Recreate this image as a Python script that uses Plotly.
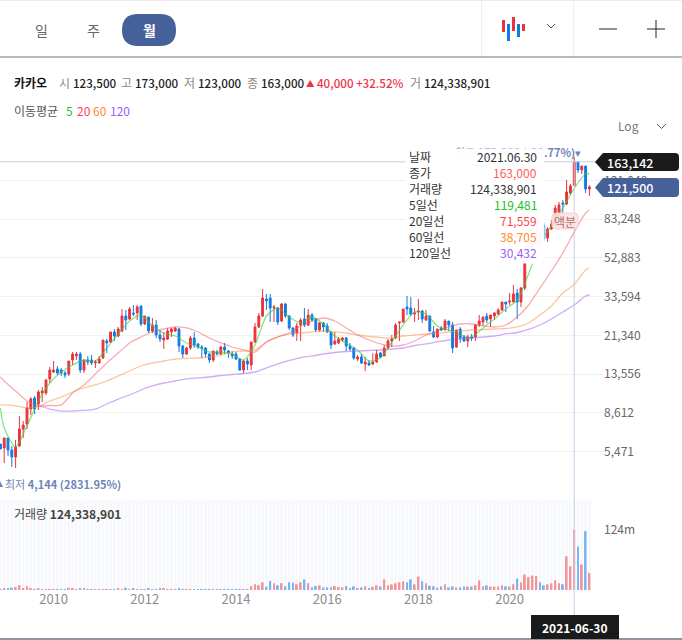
import pandas as pd
import plotly.graph_objects as go

W, H = 682, 640
FONT = "Noto Sans CJK KR"
RED, BLUE = "#e9343b", "#0f7be6"
NAVY = "#46609a"

# Monthly quotes, oldest first
months = list(pd.date_range("2008-11-01", periods=156, freq="MS").strftime("%Y-%m"))

opens = [5970, 5700, 6410, 5570, 5130, 5840, 7120, 7550, 9000, 10240, 9550, 10860,
         10860, 12800, 13890, 14390, 14220, 13730, 13570, 15990, 16760, 17150, 14220, 15990,
         15990, 15440, 15440, 16370, 19980, 19750, 22200, 21180, 22460, 26780, 25850, 27740,
         27740, 30110, 24380, 26470, 22460, 24100, 21430, 20210, 20450, 22200, 22460, 22990,
         18840, 17150, 18400, 20690, 19290, 18620, 18400, 17150, 15990, 17560, 17150, 18620,
         17770, 17150, 17150, 16180, 14220, 15800, 15080, 19750, 23540, 26780, 32680, 33070,
         29410, 29410, 25250, 30820, 26780, 23270, 21940, 24100, 25850, 24100, 27090, 25850,
         22730, 24670, 23820, 22200, 19290, 19520, 20210, 20690, 18840, 18400, 16180, 16560,
         15260, 15440, 15260, 15620, 17360, 16760, 18400, 19980, 20690, 24670, 24960, 29760,
         29410, 27410, 28060, 28400, 25550, 26780, 22200, 20940, 23270, 22730, 25250, 24100,
         18620, 22990, 20940, 19980, 20940, 20940, 24100, 24960, 26780, 25850, 26780, 27410,
         28730, 31550, 31550, 31550, 35060, 31550, 37180, 52840, 58040, 61540, 71660, 77800,
         66810, 74240, 78720, 89550, 100690, 99510, 113190, 123500, 162760, 148210, 155320, 118610]
highs = [5970, 6410, 6410, 5840, 6260, 8290, 7820, 9770, 10360, 10490, 11250, 11650,
         12800, 14730, 15800, 14900, 14560, 14060, 15800, 17560, 17560, 17560, 15990, 16760,
         16950, 15990, 16760, 20210, 20450, 22200, 22990, 23540, 29070, 28730, 29760, 30460,
         30460, 30110, 26780, 26470, 26160, 25550, 22730, 22200, 23270, 23270, 23540, 23270,
         19060, 18620, 21180, 22200, 19520, 19060, 18620, 17360, 17770, 17980, 18840, 19520,
         17980, 17770, 17560, 16180, 15990, 16370, 19750, 24670, 27740, 36750, 34660, 34660,
         30460, 29760, 31190, 31190, 27090, 23540, 24670, 26160, 29410, 29070, 27740, 26160,
         24960, 24960, 24670, 22460, 22200, 20940, 20940, 20940, 19520, 18620, 16950, 17150,
         16560, 15990, 17360, 17980, 17560, 19060, 20450, 21430, 24670, 24960, 29070, 33850,
         33460, 29410, 32680, 28730, 28730, 26780, 23820, 22990, 23820, 25850, 25250, 24960,
         22730, 23540, 21430, 21430, 21690, 24380, 27090, 26470, 27740, 27090, 28060, 29410,
         31550, 31550, 35060, 38510, 36750, 37620, 54730, 61540, 63000, 77800, 73370, 80580,
         76000, 82500, 98350, 101870, 104280, 131850, 125830, 173000, 164680, 155320, 155320, 124360]
lows = [5630, 4780, 5190, 4560, 4510, 5770, 6410, 7120, 8390, 8490, 8900, 9770,
        10610, 12210, 13730, 13410, 13250, 12950, 13250, 15080, 15990, 13730, 13730, 15080,
        15080, 14560, 15260, 16180, 17360, 19520, 19980, 20940, 22200, 22730, 25550, 26780,
        25550, 23820, 24100, 21940, 21940, 20690, 19750, 18190, 20210, 20940, 22200, 17560,
        16370, 16950, 17980, 18400, 18190, 16370, 16560, 15440, 15620, 16950, 16950, 17150,
        16370, 16180, 15990, 14060, 13730, 14220, 14220, 19520, 23270, 26470, 28730, 24960,
        24960, 24100, 24960, 26160, 22730, 20940, 19980, 19980, 23540, 23820, 24960, 22200,
        22200, 22200, 21940, 18190, 19060, 19290, 19750, 17770, 17770, 15990, 15800, 15260,
        14060, 14900, 15080, 15440, 16370, 16760, 18190, 18620, 20450, 19980, 24670, 27090,
        26780, 24960, 25550, 24670, 25250, 22200, 20690, 20690, 22460, 22990, 22460, 17360,
        18400, 19520, 19750, 18620, 19980, 19980, 23540, 23820, 24670, 23540, 25550, 27090,
        28400, 28060, 30460, 31550, 25850, 29760, 36320, 50420, 54730, 60820, 60140, 64490,
        63740, 73370, 76900, 86440, 89550, 98350, 110570, 123000, 143120, 141430, 113190, 109250]
closes = [5630, 6410, 5570, 5130, 5770, 7120, 7460, 9110, 10120, 9000, 10990, 11120,
          12650, 14220, 14220, 13730, 13730, 13410, 15800, 17150, 17150, 14220, 15990, 15620,
          15440, 15620, 16180, 20210, 19520, 22200, 21180, 22990, 26780, 25550, 29070, 27410,
          29760, 24380, 26780, 22460, 24100, 21430, 20450, 20690, 22460, 22990, 23270, 18840,
          17150, 18400, 20690, 19060, 18620, 18400, 17150, 15990, 17770, 17150, 18620, 17980,
          17360, 16760, 16180, 14220, 15800, 15260, 19750, 23540, 26780, 33070, 31930, 29410,
          29760, 24960, 30820, 26780, 23270, 21430, 23820, 25550, 24100, 27090, 25550, 22730,
          24670, 23540, 22200, 19060, 19980, 20450, 20690, 18840, 18190, 16370, 16560, 15440,
          15620, 15080, 15620, 17150, 16560, 18400, 19980, 20450, 24100, 24960, 29070, 29070,
          27410, 27740, 28400, 25850, 26780, 22460, 20940, 22990, 22730, 25250, 24100, 18400,
          22730, 20690, 19980, 20940, 20690, 24100, 25250, 26470, 25550, 27090, 27740, 28730,
          31550, 30820, 31930, 34660, 31550, 37180, 52840, 58040, 61540, 75110, 61540, 66020,
          74240, 78720, 94960, 98350, 99510, 114540, 122880, 163000, 148210, 155320, 118610, 121500]
volumes = [0.5, 3, 3, 5, 6, 10, 3, 8, 3, 1.5, 3,
           1.2, 1.5, 1, 1, 0.8, 0.8, 1, 4.8, 3, 1.2, 2.4, 2.8, 1, 1, 0.8, 0.8, 1, 1, 1, 1.5,
           2.5, 2, 4.8, 1.5, 3, 1.2, 0.8, 1, 2.5, 1, 1, 3, 2.8, 1, 1, 0.8, 2.5, 1, 0.8, 0.8,
           0.8, 0.8, 0.8, 0.6, 0.6, 0.2, 0.2, 0.2, 0.2, 0.2, 0.8, 0.8, 0.8, 1.2, 1.5,
           8, 12, 10, 16, 7, 18.6, 14, 10, 14, 7.6, 16, 15, 12, 16, 22, 14, 5.5, 8.3, 9.7,
           5.5, 5.5, 5.5, 8.3, 6, 5.5, 8.3, 3.4, 7.6, 3.4, 5.5, 7.6, 4, 6, 9.7, 7.6, 22, 9.7,
           11.7, 14, 16, 18, 16, 22, 11.7, 28, 18, 14, 9, 7.6, 5, 7.6, 11.7, 5.5, 7.6, 5, 5.5,
           7, 7, 7, 9.7, 20, 7.6, 9.7, 7, 7, 7, 9.7, 7.6, 7, 11.7, 24, 16, 32, 27, 30, 29,
           16, 9.7, 11.7, 14, 20, 14, 12, 70, 49, 124.338901, 90, 53, 122, 35]

# Moving averages, read at the first month, every third month after it, and the final month
ma_months = [months[0]] + months[1::3] + [months[-1]]
ma5 = [9110, 7210, 5770, 7380, 9890, 12210, 13890, 15080, 15990, 15800, 18400, 21690, 25250, 27090,
       23820, 21940, 21180, 19520, 18620, 17560, 17560, 17150, 15990, 19060, 26780, 29410, 26470,
       24670, 26470, 24380, 21180, 19520, 17980, 15800, 16370, 19750, 24100, 28060, 27410, 23820,
       22730, 21430, 20940, 23270, 25850, 29070, 32300, 43810, 63000, 76900, 94960, 119481, 141430, 141430]
ma20 = [13100, 12500, 11120, 9890, 9330, 9380, 9440, 10860, 11930, 13570, 15440, 17360, 19520, 20940,
        22200, 22990, 23540, 23270, 22200, 20690, 19520, 18620, 17980, 17560, 19750, 20940, 21940,
        23820, 25250, 26160, 25250, 23270, 21430, 20210, 19290, 18840, 19060, 19980, 21430, 22460,
        23540, 24380, 24380, 23820, 23540, 24100, 26470, 30460, 37180, 45370, 56030, 71559, 89550, 92740]
ma60 = [9440, 9440, 9330, 9160, 9270, 9890, 10360, 10990, 11520, 11930, 12500, 13250, 14060, 14900,
        15440, 15800, 16180, 16270, 16370, 16560, 16950, 17560, 17770, 17980, 19750, 20940, 21690,
        21940, 22200, 22460, 22200, 21940, 21430, 21060, 20810, 20690, 21180, 21430, 21690, 21820,
        22200, 22460, 22730, 22860, 22990, 23130, 23540, 24670, 27090, 30110, 35060, 38705, 45910, 47000]
ma120 = [None, None, None, None, 9380, 9000, 8790, 8790, 8850, 9000, 9550, 10120, 10610, 11250,
         11790, 12210, 12500, 12800, 12950, 13100, 13330, 13490, 13650, 13890, 14560, 15260, 15900,
         16460, 16760, 17150, 17460, 17660, 17770, 17870, 17980, 18190, 18400, 18950, 19290, 19750,
         20210, 20450, 20690, 20940, 21180, 21690, 22070, 22860, 24100, 25850, 28060, 30432, 33850, 34250]

price_ticks = [5471, 8612, 13556, 21340, 33594, 52883, 83248, 131048]
year_ticks = ["2010", "2012", "2014", "2016", "2018", "2020"]
crosshair_month = "2021-06"
crosshair_price = 163142
volume_tick = 124338901
panel_top_volume = 186500000


def fx(x):
    return x / W


def fy(y):
    return 1 - y / H


def rounded(x0, y0, x1, y1, r):
    a, b, c, d, rx, ry = fx(x0), fy(y0), fx(x1), fy(y1), r / W, r / H
    return (f"M{a+rx},{b} L{c-rx},{b} Q{c},{b} {c},{b-ry} L{c},{d+ry} Q{c},{d} {c-rx},{d} "
            f"L{a+rx},{d} Q{a},{d} {a},{d+ry} L{a},{b-ry} Q{a},{b} {a+rx},{b} Z")


def flag(x_tip, x_body, x1, y0, y1, r):
    mid = (y0 + y1) / 2
    rx, ry = r / W, r / H
    return (f"M{fx(x_tip)},{fy(mid)} L{fx(x_body)},{fy(y0)} L{fx(x1)-rx},{fy(y0)} "
            f"Q{fx(x1)},{fy(y0)} {fx(x1)},{fy(y0)-ry} L{fx(x1)},{fy(y1)+ry} "
            f"Q{fx(x1)},{fy(y1)} {fx(x1)-rx},{fy(y1)} L{fx(x_body)},{fy(y1)} Z")


fig = go.Figure()

fig.add_trace(go.Bar(x=months, y=[panel_top_volume] * len(months), width=0.72,
                     marker=dict(color="#f6f8fc", line_width=0), yaxis="y2", hoverinfo="skip"))
fig.add_trace(go.Bar(x=months, y=[v * 1e6 for v in volumes], width=0.52,
                     marker=dict(color=["#f29499" if c >= o else "#7ab6f5" for o, c in zip(opens, closes)],
                                 line_width=0),
                     yaxis="y2", hoverinfo="skip"))

for values, colour in [(ma120, "rgba(160,90,240,0.5)"), (ma60, "rgba(250,140,60,0.5)"),
                       (ma20, "rgba(245,90,100,0.5)"), (ma5, "rgba(60,205,60,0.6)")]:
    fig.add_trace(go.Scatter(x=ma_months, y=values, mode="lines", yaxis="y", hoverinfo="skip",
                             line=dict(color=colour, width=1.3, shape="spline", smoothing=0.7)))

fig.add_trace(go.Candlestick(
    x=months, open=opens, high=highs, low=lows, close=closes, yaxis="y", hoverinfo="skip",
    whiskerwidth=0,
    increasing=dict(line=dict(color=RED, width=1), fillcolor=RED),
    decreasing=dict(line=dict(color=BLUE, width=1), fillcolor=BLUE)))

shapes = [
    # toolbar
    dict(type="line", xref="paper", yref="paper", x0=0, x1=1, y0=fy(0.5), y1=fy(0.5), line=dict(color="#ececec", width=1)),
    dict(type="line", xref="paper", yref="paper", x0=fx(481.5), x1=fx(481.5), y0=fy(0), y1=fy(57), line=dict(color="#eeeeee", width=1)),
    dict(type="line", xref="paper", yref="paper", x0=fx(573.5), x1=fx(573.5), y0=fy(0), y1=fy(57), line=dict(color="#eeeeee", width=1)),
    dict(type="line", xref="paper", yref="paper", x0=0, x1=1, y0=fy(57), y1=fy(57), line=dict(color="#6c727f", width=1)),
    dict(type="line", xref="paper", yref="paper", x0=0, x1=1, y0=fy(639), y1=fy(639), line=dict(color="#6c727f", width=1.5)),
    dict(type="path", xref="paper", yref="paper", path=rounded(122, 14, 176, 46, 16), fillcolor=NAVY, line_width=0),
    # crosshair
    dict(type="line", xref="x", yref="paper", x0=crosshair_month, x1=crosshair_month, y0=fy(617), y1=fy(161),
         line=dict(color="#c6cde0", width=1)),
    dict(type="line", xref="paper", yref="y", x0=0, x1=fx(597), y0=crosshair_price, y1=crosshair_price,
         line=dict(color="#c6cde0", width=1)),
    # price flags and date box
    dict(type="path", xref="paper", yref="paper", path=flag(595, 603, 679, 153, 171, 4), fillcolor="#1a1a1a", line_width=0),
    dict(type="path", xref="paper", yref="paper", path=flag(595, 603, 679, 178, 197, 4), fillcolor=NAVY, line_width=0),
    dict(type="rect", xref="paper", yref="paper", x0=fx(531), x1=fx(619), y0=fy(615), y1=fy(639), fillcolor="#1a1a1a", line_width=0),
    # adjusted-price badge
    dict(type="path", xref="paper", yref="paper", path=rounded(552, 213, 578, 229, 4),
         fillcolor="rgba(250,226,224,0.88)", line=dict(color="#f3cfcb", width=1)),
    # low-price pointer, running off the left edge
    dict(type="path", xref="paper", yref="paper",
         path=f"M{fx(-3)},{fy(487)} L{fx(0)},{fy(481)} L{fx(3)},{fy(487)} Z", fillcolor="#6f84bb", line_width=0),
    # chart-type icon bars
    dict(type="rect", xref="paper", yref="paper", x0=fx(502), x1=fx(505), y0=fy(20), y1=fy(32), fillcolor=RED, line_width=0),
    dict(type="rect", xref="paper", yref="paper", x0=fx(507), x1=fx(510), y0=fy(24), y1=fy(41), fillcolor=BLUE, line_width=0),
    dict(type="rect", xref="paper", yref="paper", x0=fx(512), x1=fx(515), y0=fy(17), y1=fy(31), fillcolor=RED, line_width=0),
    dict(type="rect", xref="paper", yref="paper", x0=fx(517), x1=fx(520), y0=fy(24), y1=fy(37), fillcolor=BLUE, line_width=0),
    dict(type="rect", xref="paper", yref="paper", x0=fx(522), x1=fx(525), y0=fy(24), y1=fy(31), fillcolor=RED, line_width=0),
    # chevrons, zoom buttons
    dict(type="path", xref="paper", yref="paper",
         path=f"M{fx(547)},{fy(24)} L{fx(551)},{fy(28)} L{fx(555)},{fy(24)}", line=dict(color="#555555", width=1)),
    dict(type="path", xref="paper", yref="paper",
         path=f"M{fx(657)},{fy(124)} L{fx(661.5)},{fy(128.5)} L{fx(666)},{fy(124)}", line=dict(color="#555555", width=1)),
    dict(type="line", xref="paper", yref="paper", x0=fx(599), x1=fx(617), y0=fy(29), y1=fy(29), line=dict(color="#222222", width=1)),
    dict(type="line", xref="paper", yref="paper", x0=fx(647), x1=fx(665), y0=fy(29), y1=fy(29), line=dict(color="#222222", width=1)),
    dict(type="line", xref="paper", yref="paper", x0=fx(656), x1=fx(656), y0=fy(20), y1=fy(38), line=dict(color="#222222", width=1)),
]

notes = []


def text(x, y, s, size=12, color="#333333", anchor="left", weight=None):
    font = dict(family=FONT, size=size, color=color)
    if weight:
        font["weight"] = weight
    notes.append(dict(xref="paper", yref="paper", x=fx(x), y=fy(y), text=s, showarrow=False,
                      xanchor=anchor, yanchor="middle", font=font, borderpad=0, borderwidth=0))


# period tabs
text(41, 30, "일", 14, "#666666", "center")
text(94, 30, "주", 14, "#666666", "center")
text(149, 30, "월", 14, "#ffffff", "center", 700)

# quote line
text(14, 83, "카카오", 12, "#111111", weight=700)
for x, label, value in [(59, "시", "123,500"), (121, "고", "173,000"), (184, "저", "123,000"), (247, "종", "163,000")]:
    text(x, 83, label, 12, "#888888")
    text(x + 14, 83, value, 11.6, "#222222", weight=500)
text(306, 83, "▲", 8.5, "#ee3344")
text(317, 83, "40,000", 11.6, "#ee3344", weight=500)
text(356, 83, "+32.52%", 11.6, "#ee3344", weight=500)
text(410, 83, "거", 12, "#888888")
text(424, 83, "124,338,901", 11.6, "#222222", weight=500)

# moving-average legend
text(14, 110, "이동평균", 12, "#555555")
text(66, 110, "5", 12, "#22c322")
text(77, 110, "20", 12, "#ff3f5f")
text(93, 110, "60", 12, "#ff8a2b")
text(110, 110, "120", 12, "#9a5cff")
text(618, 125, "Log", 12, "#777777")

# extreme markers
text(5, 484, "최저 <b>4,144 (2831.95%)</b>", 11, "#6f84bb")
text(581, 152, "최고 <b>173,000 (-29.77%)</b>▾", 11, "#6f84bb", "right")

# data window sits over the candles
notes.append(dict(xref="paper", yref="paper", x=fx(405), y=fy(148), width=138, height=114,
                  xanchor="left", yanchor="top", text=" ", showarrow=False,
                  bgcolor="rgba(255,255,255,0.96)", borderpad=0))
rows = [("날짜", "2021.06.30", "#333333"), ("종가", "163,000", "#ff5a60"), ("거래량", "124,338,901", "#333333"),
        ("5일선", "119,481", "#20c020"), ("20일선", "71,559", "#ff3f50"), ("60일선", "38,705", "#ff8a2b"),
        ("120일선", "30,432", "#9a5cff")]
for i, (label, value, colour) in enumerate(rows):
    text(409, 156 + i * 16.1, label, 12, "#333333")
    text(537, 156 + i * 16.1, value, 12, colour, "right")

text(565, 221, "액분", 12, "#b4706c", "center")
text(607, 162, "163,142", 12.5, "#ffffff", weight=500)
text(607, 187.5, "121,500", 12.5, "#ffffff", weight=500)
text(575, 627, "2021-06-30", 12, "#ffffff", "center", 700)
text(14, 513, "거래량 <b>124,338,901</b>", 12, "#444444")

fig.update_layout(
    width=W, height=H, autosize=False, margin=dict(l=0, r=0, t=0, b=0),
    paper_bgcolor="white", plot_bgcolor="white", showlegend=False,
    barmode="overlay", hovermode=False, font=dict(family=FONT, size=12, color="#666666"),
    shapes=shapes, annotations=notes,
    xaxis=dict(type="category", categoryorder="array", categoryarray=months,
               domain=[0, 603 / W], range=[-0.105, 158.58], anchor="y2",
               rangeslider=dict(visible=False), showgrid=False, zeroline=False, showline=False,
               tickmode="array", tickvals=[y + "-01" for y in year_ticks], ticktext=year_ticks,
               ticks="", ticklen=0, tickfont=dict(family=FONT, size=13, color="#8c8c8c")),
    yaxis=dict(type="log", domain=[fy(480), fy(130)], range=[3.5930, 5.3745], side="right", anchor="x",
               tickmode="array", tickvals=price_ticks, ticktext=[f"{p:,}" for p in price_ticks],
               showgrid=True, gridcolor="#f1f1f1", gridwidth=1, zeroline=False, showline=False, ticks="",
               tickfont=dict(family=FONT, size=12, color="#666666")),
    yaxis2=dict(domain=[fy(590), fy(500)], range=[0, panel_top_volume], side="right", anchor="x",
                tickmode="array", tickvals=[volume_tick], ticktext=["124m"],
                showgrid=False, zeroline=False, showline=False, ticks="",
                tickfont=dict(family=FONT, size=12, color="#666666")),
)

assert len(opens) == len(highs) == len(lows) == len(closes) == len(volumes) == len(months), (
    len(opens), len(highs), len(lows), len(closes), len(volumes), len(months))
assert len(ma5) == len(ma20) == len(ma60) == len(ma120) == len(ma_months), (
    len(ma5), len(ma20), len(ma60), len(ma120), len(ma_months))

fig.write_html("out.html", config={"displayModeBar": False})
